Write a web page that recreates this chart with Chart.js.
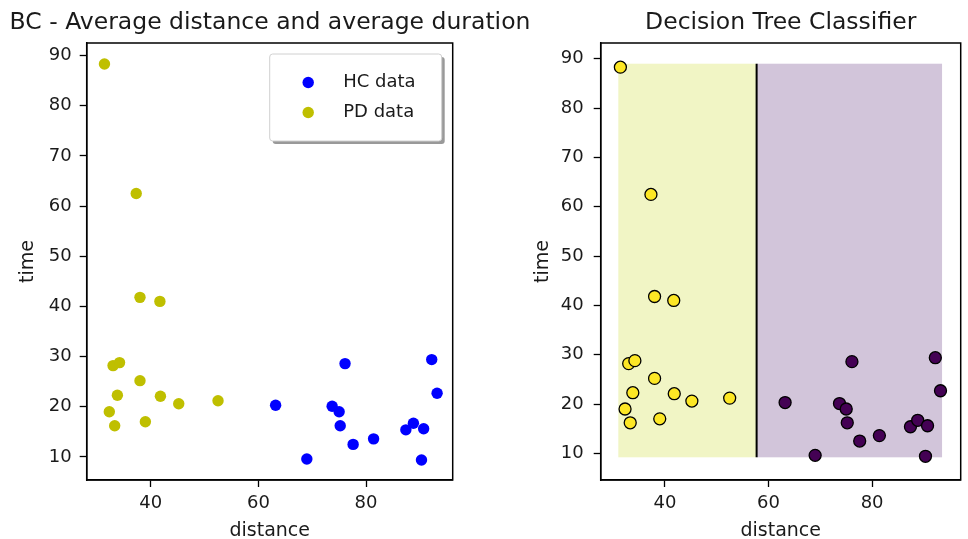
<!DOCTYPE html>
<html>
<head>
<meta charset="utf-8">
<script src="https://cdn.jsdelivr.net/npm/chart.js@4/dist/chart.umd.min.js"></script>
<style>
    body { margin: 0; background: #fff; }
    #wrap { position: relative; width: 968px; height: 539px; }
    canvas { position: absolute; top: 0; }
</style>
</head>
<body>
<div id="wrap">
    <canvas id="right" width="484" height="539" style="left:484px;"></canvas>
    <canvas id="left" width="540" height="539" style="left:0px;"></canvas>
</div>
<script>
// healthy controls (HC) and patients (PD): average distance vs average duration
const hcDistance = [63.2, 69.0, 73.7, 75.0, 75.2, 76.1, 77.6, 81.4, 87.4, 88.8, 90.7, 90.3, 92.2, 93.2];
const hcTime = [20.3, 9.6, 20.1, 19.0, 16.2, 28.6, 12.5, 13.6, 15.4, 16.7, 15.6, 9.4, 29.4, 22.7];
const pdDistance = [31.4, 37.3, 38.0, 41.7, 33.0, 34.2, 38.0, 33.8, 41.8, 45.2, 52.5, 32.3, 33.3, 39.0];
const pdTime = [88.3, 62.5, 41.8, 41.0, 28.2, 28.8, 25.2, 22.3, 22.1, 20.6, 21.2, 19.0, 16.2, 17.0];

const xTicks = [40, 60, 80];
const yTicks = [10, 20, 30, 40, 50, 60, 70, 80, 90];

// decision tree: one split on distance, regions cover the mesh grid
const treeSplit = 57.7;
const meshX = [31.0, 93.5];
const meshY = [9.2, 89.0];

const FONT = "'DejaVu Sans', sans-serif";
const TEXT = "#1a1a1a";

function points(xs, ys) {
    let out = [];
    for (let i = 0; i < xs.length; i++) {
        out.push({x: xs[i], y: ys[i]});
    }
    return out;
}

function axis(min, max, ticks, title, isY, pad, width) {
    return {
        type: "linear",
        min: min,
        max: max,
        afterBuildTicks: s => { s.ticks = ticks.map(v => ({value: v})); },
        afterFit: s => { if (isY) s.width = width; else s.height = 59; },
        grid: {display: true, drawOnChartArea: false, drawTicks: true, tickLength: 7, tickColor: "#000", tickWidth: 1.3},
        border: {display: true, color: "#000", width: 1.5},
        ticks: {color: TEXT, font: {family: FONT, size: 18}, padding: pad},
        title: {
            display: true, text: title, color: TEXT,
            font: {family: FONT, size: 19},
            padding: isY ? {top: 16.3, bottom: 0} : {top: 0, bottom: -3.3}
        }
    };
}

// empty axis that only reserves room on the right
function spacer(width) {
    return {
        position: "right",
        display: true,
        afterFit: s => { s.width = width; },
        grid: {display: false},
        border: {display: false},
        ticks: {display: false}
    };
}

const frame = {
    id: "frame",
    afterDatasetsDraw(chart) {
        const a = chart.chartArea;
        const ctx = chart.ctx;
        ctx.save();
        ctx.strokeStyle = "#000";
        ctx.lineWidth = 1.5;
        ctx.strokeRect(a.left, a.top, a.right - a.left, a.bottom - a.top);
        ctx.restore();
    }
};

// matplotlib style legend, upper right with shadow
const mplLegend = {
    id: "mplLegend",
    afterDatasetsDraw(chart) {
        const ctx = chart.ctx;
        const a = chart.chartArea;
        const x = a.right - 183, y = a.top + 11, w = 172, h = 87;
        ctx.save();
        ctx.fillStyle = "rgba(0,0,0,0.4)";
        ctx.beginPath();
        ctx.roundRect(x + 3, y + 3, w, h, 3);
        ctx.fill();
        ctx.fillStyle = "#fff";
        ctx.strokeStyle = "#d0d0d0";
        ctx.lineWidth = 1;
        ctx.beginPath();
        ctx.roundRect(x, y, w, h, 3);
        ctx.fill();
        ctx.stroke();
        ctx.font = "18px " + FONT;
        ctx.textBaseline = "middle";
        chart.data.datasets.forEach((ds, i) => {
            const cy = y + 28.5 + i * 30;
            ctx.fillStyle = ds.backgroundColor;
            ctx.beginPath();
            ctx.arc(x + 38.5, cy, 5.7, 0, Math.PI * 2);
            ctx.fill();
            ctx.fillStyle = TEXT;
            ctx.fillText(ds.label, x + 73.5, cy);
        });
        ctx.restore();
    }
};

const regions = {
    id: "regions",
    beforeDatasetsDraw(chart) {
        const xs = chart.scales.x, ys = chart.scales.y;
        const ctx = chart.ctx;
        const l = xs.getPixelForValue(meshX[0]), m = xs.getPixelForValue(treeSplit), r = xs.getPixelForValue(meshX[1]);
        const t = ys.getPixelForValue(meshY[1]), b = ys.getPixelForValue(meshY[0]);
        ctx.save();
        ctx.fillStyle = "#f1f5c5";
        ctx.fillRect(l, t, m - l, b - t);
        ctx.fillStyle = "#d2c5da";
        ctx.fillRect(m, t, r - m, b - t);
        ctx.restore();
    }
};

function titleOpts(text, full) {
    return {
        display: true, text: text, fullSize: full, color: TEXT,
        font: {family: FONT, size: 23.5, weight: "normal"},
        padding: {top: 8.7, bottom: 6.1}
    };
}

new Chart("left", {
    type: "scatter",
    data: {
        datasets: [{
            label: "HC data",
            data: points(hcDistance, hcTime),
            backgroundColor: "#0000ff",
            borderWidth: 0,
            pointRadius: 5.7
        }, {
            label: "PD data",
            data: points(pdDistance, pdTime),
            backgroundColor: "#bfbf00",
            borderWidth: 0,
            pointRadius: 5.7
        }]
    },
    options: {
        responsive: false,
        animation: false,
        devicePixelRatio: 1,
        layout: {padding: 0},
        scales: {
            x: axis(28.1, 96.1, xTicks, "distance", false, 6),
            y: axis(5.4, 92.5, yTicks, "time", true, 8, 86.7),
            pad: spacer(87.3)
        },
        plugins: {
            legend: {display: false},
            tooltip: {enabled: false},
            title: titleOpts("BC - Average distance and average duration", true)
        }
    },
    plugins: [frame, mplLegend]
});

new Chart("right", {
    type: "scatter",
    data: {
        datasets: [{
            type: "line",
            label: "split",
            data: [{x: treeSplit, y: meshY[0]}, {x: treeSplit, y: meshY[1]}],
            borderColor: "#000",
            borderWidth: 2,
            pointRadius: 0
        }, {
            label: "HC",
            data: points(hcDistance, hcTime),
            backgroundColor: "#440154",
            borderColor: "#000",
            borderWidth: 1.3,
            pointRadius: 6
        }, {
            label: "PD",
            data: points(pdDistance, pdTime),
            backgroundColor: "#fde725",
            borderColor: "#000",
            borderWidth: 1.3,
            pointRadius: 6
        }]
    },
    options: {
        responsive: false,
        animation: false,
        devicePixelRatio: 1,
        layout: {padding: {left: 31, right: 1.3, top: 0, bottom: 0}},
        scales: {
            x: axis(27.6, 97.1, xTicks, "distance", false, 6),
            y: axis(4.6, 93.2, yTicks, "time", true, 10, 85.7)
        },
        plugins: {
            legend: {display: false},
            tooltip: {enabled: false},
            title: titleOpts("Decision Tree Classifier", false)
        }
    },
    plugins: [regions, frame]
});
</script>
</body>
</html>
